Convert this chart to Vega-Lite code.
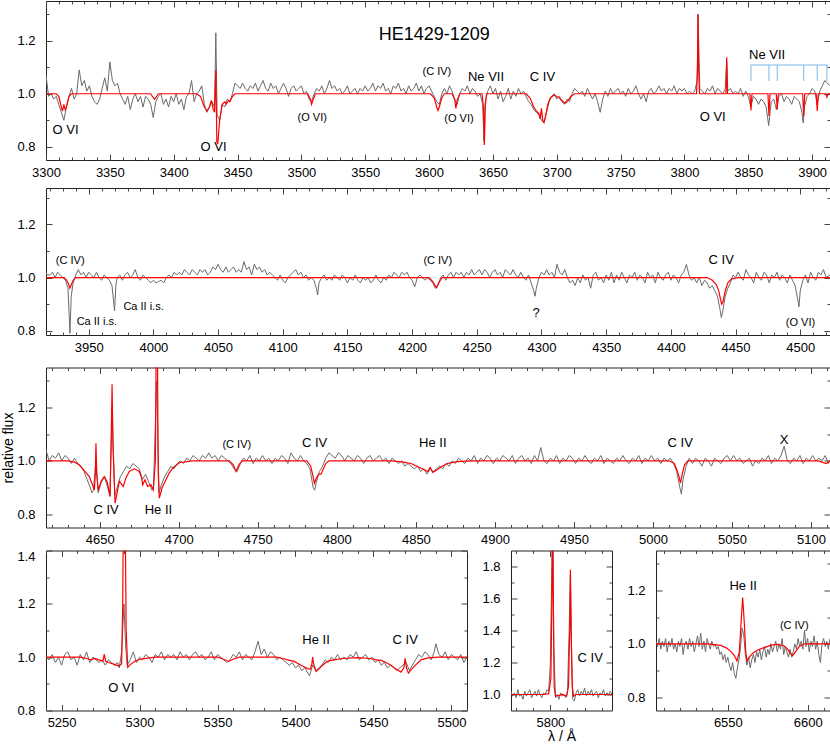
{
"$schema": "https://vega.github.io/schema/vega-lite/v6.json",
"autosize": {"type": "pad"},
"padding": {"left": 1, "top": 0, "right": 0, "bottom": 0},
"background": "white",
"config": {
  "view": {"stroke": "#222", "strokeWidth": 1},
  "font": "Liberation Sans",
  "axis": {"domain": false, "grid": false, "labelFont": "Liberation Sans", "labelFontSize": 13, "labelColor": "#000", "tickColor": "#444", "tickWidth": 1, "labelOverlap": false, "labelFlush": false, "titleFont": "Liberation Sans", "titleFontWeight": "normal", "titleColor": "#000", "titleFontSize": 14},
  "text": {"font": "Liberation Sans", "color": "#000"}
},
"datasets": {
"o1": [{"x":3300,"y":1.07},{"x":3302,"y":0.99},{"x":3304,"y":1.0},{"x":3306,"y":0.98},{"x":3308,"y":0.99},{"x":3310,"y":0.96},{"x":3312,"y":0.93},{"x":3314,"y":0.9},{"x":3316,"y":0.95},{"x":3318,"y":0.99},{"x":3320,"y":1.02},{"x":3322,"y":0.98},{"x":3324,"y":1.0},{"x":3326,"y":1.09},{"x":3328,"y":1.03},{"x":3330,"y":1.05},{"x":3332,"y":1.01},{"x":3334,"y":1.03},{"x":3336,"y":0.99},{"x":3338,"y":0.97},{"x":3340,"y":0.96},{"x":3342,"y":0.98},{"x":3344,"y":1.02},{"x":3346,"y":1.06},{"x":3348,"y":1.01},{"x":3350,"y":1.12},{"x":3352,"y":1.05},{"x":3354,"y":1.03},{"x":3356,"y":1.04},{"x":3358,"y":1.0},{"x":3360,"y":0.98},{"x":3362,"y":0.96},{"x":3364,"y":0.99},{"x":3366,"y":0.94},{"x":3368,"y":0.98},{"x":3370,"y":1.0},{"x":3372,"y":0.97},{"x":3374,"y":0.99},{"x":3376,"y":0.95},{"x":3378,"y":0.99},{"x":3380,"y":0.98},{"x":3382,"y":0.96},{"x":3384,"y":0.91},{"x":3386,"y":0.97},{"x":3388,"y":0.99},{"x":3390,"y":1.0},{"x":3392,"y":0.96},{"x":3394,"y":0.98},{"x":3396,"y":0.95},{"x":3398,"y":0.99},{"x":3400,"y":0.97},{"x":3402,"y":1.0},{"x":3404,"y":0.96},{"x":3406,"y":0.98},{"x":3408,"y":0.94},{"x":3410,"y":0.99},{"x":3412,"y":1.0},{"x":3414,"y":1.05},{"x":3416,"y":0.97},{"x":3418,"y":1.0},{"x":3420,"y":1.01},{"x":3422,"y":1.03},{"x":3424,"y":0.96},{"x":3426,"y":0.93},{"x":3428,"y":0.95},{"x":3430,"y":0.97},{"x":3432,"y":0.95},{"x":3433,"y":1.23},{"x":3434,"y":0.92},{"x":3436,"y":0.9},{"x":3438,"y":0.96},{"x":3440,"y":0.95},{"x":3442,"y":0.98},{"x":3444,"y":0.97},{"x":3446,"y":1.0},{"x":3448,"y":1.04},{"x":3450,"y":1.03},{"x":3452,"y":1.02},{"x":3454,"y":1.04},{"x":3456,"y":1.02},{"x":3458,"y":1.01},{"x":3460,"y":1.03},{"x":3462,"y":1.02},{"x":3464,"y":1.04},{"x":3466,"y":1.01},{"x":3468,"y":1.03},{"x":3470,"y":1.05},{"x":3472,"y":1.02},{"x":3474,"y":1.01},{"x":3476,"y":1.04},{"x":3478,"y":1.02},{"x":3480,"y":1.03},{"x":3482,"y":1.0},{"x":3484,"y":1.02},{"x":3486,"y":1.04},{"x":3488,"y":1.02},{"x":3490,"y":0.99},{"x":3492,"y":1.02},{"x":3494,"y":1.03},{"x":3496,"y":1.01},{"x":3498,"y":1.02},{"x":3500,"y":1.03},{"x":3502,"y":1.0},{"x":3504,"y":1.01},{"x":3506,"y":0.98},{"x":3508,"y":0.97},{"x":3510,"y":1.0},{"x":3512,"y":1.02},{"x":3514,"y":1.01},{"x":3516,"y":1.03},{"x":3518,"y":1.0},{"x":3520,"y":1.02},{"x":3522,"y":1.05},{"x":3524,"y":1.02},{"x":3526,"y":1.03},{"x":3528,"y":1.01},{"x":3530,"y":1.02},{"x":3532,"y":1.0},{"x":3534,"y":1.01},{"x":3536,"y":1.03},{"x":3538,"y":1.0},{"x":3540,"y":1.01},{"x":3542,"y":1.02},{"x":3544,"y":1.0},{"x":3546,"y":1.02},{"x":3548,"y":1.01},{"x":3550,"y":1.03},{"x":3552,"y":1.01},{"x":3554,"y":1.02},{"x":3556,"y":1.04},{"x":3558,"y":1.01},{"x":3560,"y":1.03},{"x":3562,"y":1.02},{"x":3564,"y":1.04},{"x":3566,"y":1.01},{"x":3568,"y":1.02},{"x":3570,"y":1.0},{"x":3572,"y":1.03},{"x":3574,"y":1.02},{"x":3576,"y":1.04},{"x":3578,"y":1.01},{"x":3580,"y":1.02},{"x":3582,"y":1.0},{"x":3584,"y":1.03},{"x":3586,"y":1.01},{"x":3588,"y":1.02},{"x":3590,"y":1.04},{"x":3592,"y":1.01},{"x":3594,"y":1.03},{"x":3596,"y":1.0},{"x":3598,"y":1.02},{"x":3600,"y":1.03},{"x":3602,"y":1.01},{"x":3604,"y":0.99},{"x":3606,"y":0.97},{"x":3608,"y":0.96},{"x":3610,"y":1.0},{"x":3612,"y":1.02},{"x":3614,"y":1.0},{"x":3616,"y":1.03},{"x":3618,"y":1.01},{"x":3620,"y":0.98},{"x":3622,"y":0.96},{"x":3624,"y":1.0},{"x":3626,"y":1.02},{"x":3628,"y":1.01},{"x":3630,"y":1.03},{"x":3632,"y":1.0},{"x":3634,"y":1.02},{"x":3636,"y":1.01},{"x":3638,"y":0.99},{"x":3640,"y":1.0},{"x":3642,"y":0.96},{"x":3643,"y":0.82},{"x":3644,"y":0.97},{"x":3646,"y":1.01},{"x":3648,"y":1.03},{"x":3650,"y":1.0},{"x":3652,"y":1.02},{"x":3654,"y":0.98},{"x":3656,"y":1.01},{"x":3658,"y":0.97},{"x":3660,"y":0.99},{"x":3662,"y":1.02},{"x":3664,"y":0.98},{"x":3666,"y":1.01},{"x":3668,"y":0.99},{"x":3670,"y":1.02},{"x":3672,"y":1.0},{"x":3674,"y":1.01},{"x":3676,"y":0.99},{"x":3678,"y":0.97},{"x":3680,"y":0.96},{"x":3682,"y":0.94},{"x":3684,"y":0.93},{"x":3686,"y":0.92},{"x":3688,"y":0.9},{"x":3690,"y":0.89},{"x":3692,"y":0.93},{"x":3694,"y":0.97},{"x":3696,"y":0.99},{"x":3698,"y":1.0},{"x":3700,"y":0.98},{"x":3702,"y":0.99},{"x":3704,"y":0.97},{"x":3706,"y":0.96},{"x":3708,"y":0.98},{"x":3710,"y":0.97},{"x":3712,"y":1.0},{"x":3714,"y":1.02},{"x":3716,"y":1.01},{"x":3718,"y":1.0},{"x":3720,"y":1.01},{"x":3722,"y":0.99},{"x":3724,"y":1.02},{"x":3726,"y":1.0},{"x":3728,"y":0.98},{"x":3730,"y":1.0},{"x":3732,"y":0.97},{"x":3734,"y":0.93},{"x":3736,"y":0.98},{"x":3738,"y":1.01},{"x":3740,"y":0.99},{"x":3742,"y":1.02},{"x":3744,"y":1.0},{"x":3746,"y":1.01},{"x":3748,"y":1.02},{"x":3750,"y":1.0},{"x":3752,"y":1.01},{"x":3754,"y":0.99},{"x":3756,"y":1.02},{"x":3758,"y":1.0},{"x":3760,"y":1.01},{"x":3762,"y":1.03},{"x":3764,"y":1.0},{"x":3766,"y":0.98},{"x":3768,"y":1.0},{"x":3770,"y":0.97},{"x":3772,"y":1.01},{"x":3774,"y":1.02},{"x":3776,"y":1.0},{"x":3778,"y":1.01},{"x":3780,"y":1.03},{"x":3782,"y":1.01},{"x":3784,"y":1.02},{"x":3786,"y":1.0},{"x":3788,"y":1.02},{"x":3790,"y":1.01},{"x":3792,"y":1.03},{"x":3794,"y":1.0},{"x":3796,"y":1.02},{"x":3798,"y":1.01},{"x":3800,"y":1.02},{"x":3802,"y":1.0},{"x":3804,"y":1.01},{"x":3806,"y":1.0},{"x":3808,"y":1.01},{"x":3810,"y":1.05},{"x":3810.7,"y":1.3},{"x":3812,"y":1.02},{"x":3814,"y":1.01},{"x":3816,"y":1.0},{"x":3818,"y":1.02},{"x":3820,"y":1.01},{"x":3822,"y":1.03},{"x":3824,"y":1.0},{"x":3826,"y":1.02},{"x":3828,"y":1.01},{"x":3830,"y":1.0},{"x":3832,"y":1.02},{"x":3833.1,"y":1.12},{"x":3834,"y":1.01},{"x":3836,"y":1.02},{"x":3838,"y":1.0},{"x":3840,"y":1.01},{"x":3842,"y":1.0},{"x":3844,"y":1.02},{"x":3846,"y":0.99},{"x":3848,"y":1.01},{"x":3850,"y":0.99},{"x":3852,"y":0.95},{"x":3854,"y":0.99},{"x":3856,"y":0.98},{"x":3858,"y":0.96},{"x":3860,"y":0.98},{"x":3862,"y":0.97},{"x":3864,"y":0.95},{"x":3866,"y":0.88},{"x":3868,"y":0.97},{"x":3870,"y":0.98},{"x":3872,"y":0.94},{"x":3874,"y":0.99},{"x":3876,"y":1.0},{"x":3878,"y":0.97},{"x":3880,"y":0.99},{"x":3882,"y":0.98},{"x":3884,"y":0.96},{"x":3886,"y":0.99},{"x":3888,"y":0.98},{"x":3890,"y":0.97},{"x":3892,"y":0.93},{"x":3893,"y":0.89},{"x":3894,"y":0.95},{"x":3896,"y":0.99},{"x":3898,"y":1.0},{"x":3900,"y":1.02},{"x":3902,"y":1.01},{"x":3904,"y":0.96},{"x":3906,"y":1.01},{"x":3908,"y":1.03},{"x":3910,"y":1.05},{"x":3912,"y":1.04},{"x":3914,"y":1.03}],
"m1": [{"x":3300,"y":1.0},{"x":3308,"y":1.0},{"x":3310,"y":0.99},{"x":3312,"y":0.95},{"x":3313,"y":0.935},{"x":3314,"y":0.96},{"x":3315,"y":0.94},{"x":3316,"y":0.95},{"x":3318,"y":0.99},{"x":3320,"y":1.0},{"x":3382,"y":1.0},{"x":3384,"y":0.985},{"x":3385,"y":0.979},{"x":3386,"y":0.985},{"x":3388,"y":1.0},{"x":3418,"y":1.0},{"x":3421,"y":0.99},{"x":3424,"y":0.95},{"x":3426,"y":0.935},{"x":3428,"y":0.95},{"x":3429.5,"y":0.975},{"x":3431,"y":0.94},{"x":3432,"y":0.93},{"x":3433,"y":1.09},{"x":3433.8,"y":0.82},{"x":3434.5,"y":0.81},{"x":3436,"y":0.9},{"x":3438,"y":0.96},{"x":3440,"y":0.97},{"x":3441,"y":0.96},{"x":3443,"y":0.975},{"x":3444,"y":0.97},{"x":3446,"y":0.99},{"x":3448,"y":1.0},{"x":3505,"y":1.0},{"x":3507,"y":0.98},{"x":3508,"y":0.96},{"x":3509,"y":0.975},{"x":3511,"y":1.0},{"x":3601,"y":1.0},{"x":3604,"y":0.985},{"x":3606,"y":0.95},{"x":3607,"y":0.937},{"x":3608,"y":0.95},{"x":3610,"y":0.985},{"x":3612,"y":1.0},{"x":3618,"y":1.0},{"x":3620,"y":0.98},{"x":3621,"y":0.945},{"x":3622,"y":0.975},{"x":3624,"y":1.0},{"x":3641.5,"y":1.0},{"x":3642.6,"y":0.95},{"x":3643.3,"y":0.807},{"x":3644,"y":0.95},{"x":3645,"y":1.0},{"x":3676,"y":1.0},{"x":3679,"y":0.985},{"x":3682,"y":0.95},{"x":3684,"y":0.935},{"x":3686,"y":0.925},{"x":3687,"y":0.905},{"x":3688,"y":0.945},{"x":3689,"y":0.9},{"x":3690,"y":0.892},{"x":3691,"y":0.91},{"x":3693,"y":0.96},{"x":3695,"y":0.985},{"x":3698,"y":0.995},{"x":3702,"y":0.985},{"x":3705,"y":0.97},{"x":3707,"y":0.965},{"x":3709,"y":0.975},{"x":3711,"y":0.99},{"x":3714,"y":1.0},{"x":3809.5,"y":1.0},{"x":3810.2,"y":1.1},{"x":3810.6,"y":1.3},{"x":3811.1,"y":1.1},{"x":3811.8,"y":1.0},{"x":3832.5,"y":1.0},{"x":3833.1,"y":1.138},{"x":3833.7,"y":1.0},{"x":3851.3,"y":1.0},{"x":3852.1,"y":0.937},{"x":3852.9,"y":1.0},{"x":3865.4,"y":1.0},{"x":3866.2,"y":0.916},{"x":3867,"y":1.0},{"x":3871.9,"y":1.0},{"x":3872.7,"y":0.941},{"x":3873.5,"y":1.0},{"x":3892.6,"y":1.0},{"x":3893.4,"y":0.916},{"x":3894.2,"y":1.0},{"x":3903.2,"y":1.0},{"x":3904,"y":0.935},{"x":3904.8,"y":1.0},{"x":3910.8,"y":1.0},{"x":3911.6,"y":0.988},{"x":3912.4,"y":1.0},{"x":3914,"y":1.0}],
"o2": [{"x":3917,"y":1.02},{"x":3918,"y":1.01},{"x":3920,"y":1.01},{"x":3922,"y":1.02},{"x":3924,"y":1.0},{"x":3926,"y":1.02},{"x":3928,"y":1.01},{"x":3930,"y":1.0},{"x":3932,"y":0.99},{"x":3934,"y":0.96},{"x":3935.5,"y":0.79},{"x":3936.5,"y":0.93},{"x":3938,"y":0.98},{"x":3940,"y":1.01},{"x":3942,"y":1.03},{"x":3944,"y":1.01},{"x":3946,"y":1.02},{"x":3948,"y":1.0},{"x":3950,"y":1.02},{"x":3952,"y":1.01},{"x":3954,"y":1.0},{"x":3956,"y":1.02},{"x":3958,"y":1.0},{"x":3960,"y":0.99},{"x":3962,"y":1.01},{"x":3964,"y":1.0},{"x":3966,"y":0.99},{"x":3968,"y":0.97},{"x":3970,"y":0.875},{"x":3971,"y":0.97},{"x":3972,"y":1.0},{"x":3974,"y":1.01},{"x":3976,"y":0.99},{"x":3978,"y":1.01},{"x":3980,"y":1.02},{"x":3982,"y":1.0},{"x":3984,"y":1.01},{"x":3986,"y":1.03},{"x":3988,"y":1.0},{"x":3990,"y":0.99},{"x":3992,"y":1.01},{"x":3994,"y":1.0},{"x":3996,"y":0.99},{"x":3998,"y":0.98},{"x":4000,"y":0.99},{"x":4002,"y":0.98},{"x":4004,"y":0.985},{"x":4006,"y":0.99},{"x":4008,"y":0.98},{"x":4010,"y":1.0},{"x":4012,"y":1.01},{"x":4014,"y":1.0},{"x":4016,"y":1.02},{"x":4018,"y":1.01},{"x":4020,"y":1.02},{"x":4022,"y":1.01},{"x":4024,"y":1.03},{"x":4026,"y":1.02},{"x":4028,"y":1.01},{"x":4030,"y":1.03},{"x":4032,"y":1.02},{"x":4034,"y":1.01},{"x":4036,"y":1.03},{"x":4038,"y":1.02},{"x":4040,"y":1.03},{"x":4042,"y":1.01},{"x":4044,"y":1.02},{"x":4046,"y":1.04},{"x":4048,"y":1.03},{"x":4050,"y":1.05},{"x":4052,"y":1.03},{"x":4054,"y":1.02},{"x":4056,"y":1.04},{"x":4058,"y":1.02},{"x":4060,"y":1.03},{"x":4062,"y":1.04},{"x":4064,"y":1.02},{"x":4066,"y":1.03},{"x":4068,"y":1.02},{"x":4070,"y":1.06},{"x":4072,"y":1.03},{"x":4074,"y":1.04},{"x":4076,"y":1.01},{"x":4078,"y":1.05},{"x":4080,"y":1.03},{"x":4082,"y":1.04},{"x":4084,"y":1.02},{"x":4086,"y":1.03},{"x":4088,"y":1.01},{"x":4090,"y":1.02},{"x":4092,"y":1.01},{"x":4094,"y":1.0},{"x":4096,"y":0.99},{"x":4098,"y":1.01},{"x":4100,"y":0.99},{"x":4102,"y":0.98},{"x":4104,"y":1.0},{"x":4106,"y":1.01},{"x":4108,"y":1.02},{"x":4110,"y":1.03},{"x":4112,"y":1.01},{"x":4114,"y":1.02},{"x":4116,"y":1.0},{"x":4118,"y":1.01},{"x":4120,"y":0.99},{"x":4122,"y":1.0},{"x":4124,"y":0.99},{"x":4126,"y":0.96},{"x":4127,"y":0.935},{"x":4128,"y":0.98},{"x":4130,"y":1.0},{"x":4132,"y":1.01},{"x":4134,"y":0.99},{"x":4136,"y":1.0},{"x":4138,"y":0.99},{"x":4140,"y":1.01},{"x":4142,"y":1.0},{"x":4144,"y":0.99},{"x":4146,"y":1.01},{"x":4148,"y":1.0},{"x":4150,"y":0.98},{"x":4152,"y":1.0},{"x":4154,"y":0.99},{"x":4156,"y":1.01},{"x":4158,"y":0.99},{"x":4160,"y":0.98},{"x":4162,"y":1.0},{"x":4164,"y":0.99},{"x":4166,"y":1.0},{"x":4168,"y":0.98},{"x":4170,"y":0.99},{"x":4172,"y":1.01},{"x":4174,"y":0.99},{"x":4176,"y":0.98},{"x":4178,"y":1.0},{"x":4180,"y":0.99},{"x":4182,"y":1.01},{"x":4184,"y":1.0},{"x":4186,"y":1.02},{"x":4188,"y":1.01},{"x":4190,"y":1.0},{"x":4192,"y":1.02},{"x":4194,"y":1.01},{"x":4196,"y":1.02},{"x":4198,"y":1.0},{"x":4200,"y":0.99},{"x":4202,"y":0.965},{"x":4204,"y":1.0},{"x":4206,"y":1.01},{"x":4208,"y":1.0},{"x":4210,"y":0.99},{"x":4212,"y":1.0},{"x":4214,"y":0.99},{"x":4216,"y":0.98},{"x":4218,"y":0.96},{"x":4220,"y":0.97},{"x":4222,"y":1.0},{"x":4224,"y":1.01},{"x":4226,"y":0.99},{"x":4228,"y":1.01},{"x":4230,"y":1.02},{"x":4232,"y":1.0},{"x":4234,"y":1.02},{"x":4236,"y":1.01},{"x":4238,"y":1.02},{"x":4240,"y":1.0},{"x":4242,"y":1.02},{"x":4244,"y":1.01},{"x":4246,"y":1.03},{"x":4248,"y":1.01},{"x":4250,"y":1.02},{"x":4252,"y":1.03},{"x":4254,"y":1.01},{"x":4256,"y":1.03},{"x":4258,"y":1.02},{"x":4260,"y":1.0},{"x":4262,"y":1.02},{"x":4264,"y":1.03},{"x":4266,"y":1.01},{"x":4268,"y":1.02},{"x":4270,"y":1.0},{"x":4272,"y":1.03},{"x":4274,"y":1.02},{"x":4276,"y":1.01},{"x":4278,"y":1.03},{"x":4280,"y":1.01},{"x":4282,"y":1.0},{"x":4284,"y":1.02},{"x":4286,"y":1.0},{"x":4288,"y":0.99},{"x":4290,"y":1.01},{"x":4292,"y":0.98},{"x":4294,"y":0.95},{"x":4295,"y":0.93},{"x":4296,"y":0.96},{"x":4298,"y":1.0},{"x":4300,"y":1.02},{"x":4302,"y":1.01},{"x":4304,"y":1.03},{"x":4306,"y":1.01},{"x":4308,"y":1.02},{"x":4310,"y":1.0},{"x":4312,"y":1.05},{"x":4314,"y":1.02},{"x":4316,"y":1.01},{"x":4318,"y":1.03},{"x":4320,"y":1.0},{"x":4322,"y":0.98},{"x":4324,"y":0.99},{"x":4326,"y":0.97},{"x":4328,"y":1.0},{"x":4330,"y":0.98},{"x":4332,"y":1.01},{"x":4334,"y":0.99},{"x":4336,"y":1.0},{"x":4338,"y":0.96},{"x":4340,"y":1.01},{"x":4342,"y":1.02},{"x":4344,"y":0.99},{"x":4346,"y":1.0},{"x":4348,"y":0.98},{"x":4350,"y":1.01},{"x":4352,"y":0.99},{"x":4354,"y":1.02},{"x":4356,"y":0.98},{"x":4358,"y":1.01},{"x":4360,"y":0.99},{"x":4362,"y":1.02},{"x":4364,"y":1.0},{"x":4366,"y":0.98},{"x":4368,"y":1.01},{"x":4370,"y":1.0},{"x":4372,"y":1.02},{"x":4374,"y":0.99},{"x":4376,"y":1.01},{"x":4378,"y":1.0},{"x":4380,"y":0.98},{"x":4382,"y":1.02},{"x":4384,"y":1.0},{"x":4386,"y":1.01},{"x":4388,"y":0.98},{"x":4390,"y":1.02},{"x":4392,"y":1.0},{"x":4394,"y":0.99},{"x":4396,"y":1.01},{"x":4398,"y":1.02},{"x":4400,"y":0.99},{"x":4402,"y":1.01},{"x":4404,"y":1.0},{"x":4406,"y":0.98},{"x":4408,"y":1.01},{"x":4410,"y":1.02},{"x":4412,"y":1.05},{"x":4414,"y":1.01},{"x":4416,"y":0.99},{"x":4418,"y":1.0},{"x":4420,"y":0.98},{"x":4422,"y":1.0},{"x":4424,"y":0.97},{"x":4426,"y":0.99},{"x":4428,"y":0.98},{"x":4430,"y":0.96},{"x":4432,"y":0.97},{"x":4434,"y":0.95},{"x":4436,"y":0.93},{"x":4438,"y":0.88},{"x":4439,"y":0.85},{"x":4440,"y":0.87},{"x":4442,"y":0.93},{"x":4444,"y":0.96},{"x":4446,"y":0.98},{"x":4448,"y":1.01},{"x":4450,"y":1.0},{"x":4452,"y":1.02},{"x":4454,"y":1.0},{"x":4456,"y":0.99},{"x":4458,"y":1.03},{"x":4460,"y":1.01},{"x":4462,"y":1.0},{"x":4464,"y":0.98},{"x":4466,"y":1.02},{"x":4468,"y":1.0},{"x":4470,"y":0.99},{"x":4472,"y":1.02},{"x":4474,"y":1.01},{"x":4476,"y":0.98},{"x":4478,"y":1.01},{"x":4480,"y":1.0},{"x":4482,"y":1.02},{"x":4484,"y":0.99},{"x":4486,"y":1.01},{"x":4488,"y":1.0},{"x":4490,"y":0.98},{"x":4492,"y":1.01},{"x":4494,"y":0.99},{"x":4496,"y":0.97},{"x":4498,"y":0.92},{"x":4499,"y":0.89},{"x":4500,"y":0.95},{"x":4502,"y":0.99},{"x":4504,"y":1.01},{"x":4506,"y":0.98},{"x":4508,"y":1.02},{"x":4510,"y":1.0},{"x":4512,"y":0.99},{"x":4514,"y":1.02},{"x":4516,"y":1.01},{"x":4518,"y":1.03},{"x":4520,"y":1.0},{"x":4523,"y":1.01}],
"m2": [{"x":3917,"y":1.0},{"x":3931,"y":1.0},{"x":3933,"y":0.99},{"x":3934.5,"y":0.975},{"x":3935.5,"y":0.96},{"x":3936.5,"y":0.972},{"x":3938,"y":0.99},{"x":3940,"y":1.0},{"x":4213,"y":1.0},{"x":4216,"y":0.985},{"x":4218,"y":0.968},{"x":4219,"y":0.962},{"x":4220,"y":0.975},{"x":4223,"y":1.0},{"x":4428,"y":1.0},{"x":4432,"y":0.99},{"x":4435,"y":0.975},{"x":4437,"y":0.95},{"x":4438.3,"y":0.92},{"x":4439.3,"y":0.9},{"x":4440.3,"y":0.91},{"x":4442,"y":0.95},{"x":4444,"y":0.98},{"x":4447,"y":0.995},{"x":4452,"y":1.0},{"x":4523,"y":1.0}],
"o3": [{"x":4616,"y":1.04},{"x":4618,"y":1.0},{"x":4620,"y":1.02},{"x":4622,"y":1.01},{"x":4624,"y":1.03},{"x":4626,"y":1.0},{"x":4628,"y":1.02},{"x":4630,"y":1.01},{"x":4632,"y":0.99},{"x":4634,"y":1.01},{"x":4636,"y":0.99},{"x":4638,"y":0.98},{"x":4640,"y":0.96},{"x":4642,"y":0.93},{"x":4644,"y":0.9},{"x":4645,"y":0.88},{"x":4646,"y":0.89},{"x":4647.6,"y":1.0},{"x":4649,"y":0.88},{"x":4651,"y":0.92},{"x":4653,"y":0.94},{"x":4655,"y":0.9},{"x":4656.5,"y":0.87},{"x":4657.8,"y":1.2},{"x":4659.5,"y":0.87},{"x":4661,"y":0.9},{"x":4663,"y":0.94},{"x":4665,"y":0.96},{"x":4667,"y":0.98},{"x":4669,"y":0.97},{"x":4671,"y":0.99},{"x":4673,"y":0.98},{"x":4675,"y":0.97},{"x":4677,"y":0.93},{"x":4679,"y":0.95},{"x":4681,"y":0.92},{"x":4683,"y":0.89},{"x":4684,"y":0.9},{"x":4686,"y":1.3},{"x":4687.5,"y":0.88},{"x":4689,"y":0.91},{"x":4691,"y":0.94},{"x":4693,"y":0.96},{"x":4695,"y":0.98},{"x":4697,"y":0.97},{"x":4699,"y":0.99},{"x":4701,"y":1.0},{"x":4703,"y":0.99},{"x":4705,"y":1.01},{"x":4707,"y":1.0},{"x":4709,"y":1.02},{"x":4711,"y":1.01},{"x":4713,"y":1.0},{"x":4715,"y":1.02},{"x":4717,"y":1.01},{"x":4719,"y":1.03},{"x":4721,"y":1.01},{"x":4723,"y":1.02},{"x":4725,"y":1.0},{"x":4727,"y":1.02},{"x":4729,"y":1.01},{"x":4731,"y":1.0},{"x":4733,"y":0.99},{"x":4735,"y":0.97},{"x":4737,"y":0.96},{"x":4739,"y":0.99},{"x":4741,"y":1.01},{"x":4743,"y":1.0},{"x":4745,"y":1.02},{"x":4747,"y":0.99},{"x":4749,"y":1.01},{"x":4751,"y":1.0},{"x":4753,"y":1.02},{"x":4755,"y":1.0},{"x":4757,"y":1.01},{"x":4759,"y":0.99},{"x":4761,"y":1.01},{"x":4763,"y":1.0},{"x":4765,"y":1.02},{"x":4767,"y":1.01},{"x":4769,"y":0.99},{"x":4771,"y":1.03},{"x":4773,"y":1.01},{"x":4775,"y":1.0},{"x":4777,"y":1.02},{"x":4779,"y":1.0},{"x":4781,"y":0.99},{"x":4783,"y":0.97},{"x":4785,"y":0.9},{"x":4786,"y":0.89},{"x":4787,"y":0.92},{"x":4789,"y":0.96},{"x":4791,"y":0.98},{"x":4793,"y":1.01},{"x":4795,"y":1.03},{"x":4797,"y":1.02},{"x":4799,"y":1.01},{"x":4801,"y":1.03},{"x":4803,"y":1.02},{"x":4805,"y":1.0},{"x":4807,"y":1.02},{"x":4809,"y":1.01},{"x":4811,"y":1.0},{"x":4813,"y":1.02},{"x":4815,"y":1.01},{"x":4817,"y":0.99},{"x":4819,"y":1.01},{"x":4821,"y":1.02},{"x":4823,"y":1.0},{"x":4825,"y":1.01},{"x":4827,"y":1.02},{"x":4829,"y":1.0},{"x":4831,"y":1.01},{"x":4833,"y":0.99},{"x":4835,"y":1.01},{"x":4837,"y":1.0},{"x":4839,"y":0.99},{"x":4841,"y":1.0},{"x":4843,"y":0.98},{"x":4845,"y":0.99},{"x":4847,"y":0.98},{"x":4849,"y":0.97},{"x":4851,"y":0.98},{"x":4853,"y":0.96},{"x":4855,"y":0.97},{"x":4857,"y":0.95},{"x":4859,"y":0.97},{"x":4861,"y":0.96},{"x":4863,"y":0.97},{"x":4865,"y":0.98},{"x":4867,"y":0.97},{"x":4869,"y":0.99},{"x":4871,"y":0.98},{"x":4873,"y":1.0},{"x":4875,"y":0.99},{"x":4877,"y":1.01},{"x":4879,"y":1.0},{"x":4881,"y":0.99},{"x":4883,"y":1.01},{"x":4885,"y":1.0},{"x":4887,"y":1.02},{"x":4889,"y":0.99},{"x":4891,"y":1.01},{"x":4893,"y":1.0},{"x":4895,"y":1.02},{"x":4897,"y":1.01},{"x":4899,"y":0.99},{"x":4901,"y":1.01},{"x":4903,"y":1.0},{"x":4905,"y":1.02},{"x":4907,"y":1.01},{"x":4909,"y":1.0},{"x":4911,"y":1.02},{"x":4913,"y":0.99},{"x":4915,"y":1.01},{"x":4917,"y":1.02},{"x":4919,"y":1.0},{"x":4921,"y":1.01},{"x":4923,"y":0.99},{"x":4925,"y":1.02},{"x":4927,"y":1.0},{"x":4929,"y":1.05},{"x":4931,"y":1.0},{"x":4933,"y":0.99},{"x":4935,"y":1.01},{"x":4937,"y":1.0},{"x":4939,"y":1.02},{"x":4941,"y":0.99},{"x":4943,"y":1.01},{"x":4945,"y":1.0},{"x":4947,"y":1.02},{"x":4949,"y":1.01},{"x":4951,"y":0.99},{"x":4953,"y":1.01},{"x":4955,"y":1.0},{"x":4957,"y":1.02},{"x":4959,"y":1.0},{"x":4961,"y":0.99},{"x":4963,"y":1.01},{"x":4965,"y":1.0},{"x":4967,"y":1.02},{"x":4969,"y":0.99},{"x":4971,"y":1.01},{"x":4973,"y":1.0},{"x":4975,"y":0.99},{"x":4977,"y":1.01},{"x":4979,"y":1.0},{"x":4981,"y":1.02},{"x":4983,"y":1.0},{"x":4985,"y":0.99},{"x":4987,"y":1.01},{"x":4989,"y":1.0},{"x":4991,"y":1.02},{"x":4993,"y":0.99},{"x":4995,"y":1.01},{"x":4997,"y":1.0},{"x":4999,"y":1.02},{"x":5001,"y":1.0},{"x":5003,"y":1.01},{"x":5005,"y":0.99},{"x":5007,"y":1.01},{"x":5009,"y":1.0},{"x":5011,"y":1.01},{"x":5013,"y":0.99},{"x":5015,"y":0.96},{"x":5017,"y":0.9},{"x":5018,"y":0.875},{"x":5019,"y":0.93},{"x":5021,"y":0.98},{"x":5023,"y":1.01},{"x":5025,"y":0.99},{"x":5027,"y":1.01},{"x":5029,"y":1.0},{"x":5031,"y":0.98},{"x":5033,"y":1.01},{"x":5035,"y":1.0},{"x":5037,"y":0.98},{"x":5039,"y":1.01},{"x":5041,"y":1.0},{"x":5043,"y":0.99},{"x":5045,"y":1.01},{"x":5047,"y":1.02},{"x":5049,"y":1.0},{"x":5051,"y":1.02},{"x":5053,"y":1.0},{"x":5055,"y":1.01},{"x":5057,"y":0.99},{"x":5059,"y":1.0},{"x":5061,"y":1.01},{"x":5063,"y":0.98},{"x":5065,"y":1.0},{"x":5067,"y":0.99},{"x":5069,"y":1.01},{"x":5071,"y":1.0},{"x":5073,"y":1.02},{"x":5075,"y":0.99},{"x":5077,"y":1.01},{"x":5079,"y":1.0},{"x":5081,"y":1.02},{"x":5083,"y":1.055},{"x":5085,"y":1.0},{"x":5087,"y":0.99},{"x":5089,"y":1.01},{"x":5091,"y":1.0},{"x":5093,"y":1.02},{"x":5095,"y":0.99},{"x":5097,"y":1.01},{"x":5099,"y":1.0},{"x":5101,"y":1.02},{"x":5103,"y":1.0},{"x":5105,"y":1.01},{"x":5107,"y":1.0},{"x":5109,"y":1.02},{"x":5111,"y":0.99},{"x":5112,"y":1.0}],
"m3": [{"x":4616,"y":1.0},{"x":4630,"y":1.0},{"x":4634,"y":0.995},{"x":4637,"y":0.985},{"x":4640,"y":0.965},{"x":4643.4,"y":0.941},{"x":4646.6,"y":0.891},{"x":4647.2,"y":0.95},{"x":4647.6,"y":1.066},{"x":4648.1,"y":0.95},{"x":4649.1,"y":0.89},{"x":4651,"y":0.925},{"x":4652.9,"y":0.941},{"x":4654.8,"y":0.92},{"x":4656.5,"y":0.866},{"x":4657.3,"y":1.1},{"x":4657.8,"y":1.287},{"x":4658.4,"y":1.05},{"x":4659.7,"y":0.841},{"x":4661,"y":0.88},{"x":4662.4,"y":0.923},{"x":4664.9,"y":0.904},{"x":4666.5,"y":0.935},{"x":4668.7,"y":0.96},{"x":4671.9,"y":0.97},{"x":4675,"y":0.96},{"x":4676.5,"y":0.935},{"x":4677.2,"y":0.91},{"x":4678.6,"y":0.929},{"x":4680.3,"y":0.904},{"x":4682.4,"y":0.91},{"x":4683.9,"y":0.891},{"x":4685.2,"y":1.0},{"x":4685.8,"y":1.5},{"x":4686.4,"y":1.5},{"x":4687,"y":0.95},{"x":4687.7,"y":0.86},{"x":4689.5,"y":0.9},{"x":4691.9,"y":0.929},{"x":4694,"y":0.955},{"x":4696.2,"y":0.973},{"x":4700.3,"y":0.993},{"x":4708.8,"y":1.0},{"x":4732,"y":1.0},{"x":4734.5,"y":0.985},{"x":4736.2,"y":0.96},{"x":4738,"y":0.985},{"x":4740,"y":1.0},{"x":4781,"y":1.0},{"x":4783.5,"y":0.98},{"x":4785,"y":0.94},{"x":4785.8,"y":0.916},{"x":4787,"y":0.935},{"x":4788.5,"y":0.95},{"x":4790,"y":0.95},{"x":4791.5,"y":0.97},{"x":4793,"y":0.99},{"x":4795,"y":1.0},{"x":4835,"y":1.0},{"x":4842,"y":0.995},{"x":4847,"y":0.99},{"x":4851,"y":0.979},{"x":4854,"y":0.97},{"x":4857.5,"y":0.96},{"x":4859,"y":0.975},{"x":4860.7,"y":0.957},{"x":4863,"y":0.965},{"x":4866,"y":0.978},{"x":4870,"y":0.99},{"x":4876,"y":0.997},{"x":4885,"y":1.0},{"x":5010,"y":1.0},{"x":5013.5,"y":0.99},{"x":5015.5,"y":0.96},{"x":5016.5,"y":0.94},{"x":5017.4,"y":0.916},{"x":5018.5,"y":0.95},{"x":5020,"y":0.985},{"x":5022,"y":1.0},{"x":5105,"y":1.0},{"x":5107,"y":0.995},{"x":5109.5,"y":0.99},{"x":5111,"y":0.995},{"x":5112,"y":1.0}],
"o4": [{"x":5240,"y":1.0},{"x":5242,"y":0.99},{"x":5244,"y":1.01},{"x":5246,"y":0.98},{"x":5248,"y":1.0},{"x":5250,"y":0.97},{"x":5252,"y":1.01},{"x":5254,"y":1.02},{"x":5256,"y":0.99},{"x":5258,"y":1.0},{"x":5260,"y":0.97},{"x":5262,"y":1.01},{"x":5264,"y":0.99},{"x":5266,"y":1.02},{"x":5268,"y":0.98},{"x":5270,"y":1.0},{"x":5272,"y":0.99},{"x":5274,"y":0.98},{"x":5276,"y":0.99},{"x":5278,"y":0.97},{"x":5280,"y":0.99},{"x":5282,"y":0.98},{"x":5284,"y":0.97},{"x":5286,"y":0.98},{"x":5287,"y":0.96},{"x":5288.5,"y":1.02},{"x":5290,"y":1.2},{"x":5291,"y":1.05},{"x":5292,"y":0.97},{"x":5294,"y":0.99},{"x":5296,"y":1.02},{"x":5298,"y":0.98},{"x":5300,"y":1.0},{"x":5302,"y":0.99},{"x":5304,"y":1.01},{"x":5306,"y":1.0},{"x":5308,"y":0.98},{"x":5310,"y":1.01},{"x":5312,"y":1.0},{"x":5314,"y":1.02},{"x":5316,"y":0.99},{"x":5318,"y":1.01},{"x":5320,"y":1.0},{"x":5322,"y":1.01},{"x":5324,"y":0.99},{"x":5326,"y":1.02},{"x":5328,"y":1.0},{"x":5330,"y":1.01},{"x":5332,"y":0.99},{"x":5334,"y":1.01},{"x":5336,"y":1.02},{"x":5338,"y":1.0},{"x":5340,"y":1.01},{"x":5342,"y":0.99},{"x":5344,"y":1.0},{"x":5346,"y":1.02},{"x":5348,"y":0.99},{"x":5350,"y":1.01},{"x":5352,"y":1.0},{"x":5354,"y":0.99},{"x":5356,"y":0.98},{"x":5358,"y":0.99},{"x":5360,"y":1.01},{"x":5362,"y":1.0},{"x":5364,"y":1.02},{"x":5366,"y":0.99},{"x":5368,"y":1.01},{"x":5370,"y":1.0},{"x":5372,"y":0.99},{"x":5374,"y":1.02},{"x":5376,"y":1.06},{"x":5378,"y":1.01},{"x":5380,"y":1.03},{"x":5382,"y":1.0},{"x":5384,"y":1.02},{"x":5386,"y":1.01},{"x":5388,"y":0.99},{"x":5390,"y":1.0},{"x":5392,"y":0.99},{"x":5394,"y":0.98},{"x":5396,"y":0.97},{"x":5398,"y":0.98},{"x":5400,"y":0.96},{"x":5402,"y":0.97},{"x":5404,"y":0.95},{"x":5406,"y":0.96},{"x":5408,"y":0.94},{"x":5409,"y":0.93},{"x":5411,"y":0.97},{"x":5413,"y":0.95},{"x":5415,"y":0.96},{"x":5417,"y":0.97},{"x":5419,"y":0.99},{"x":5421,"y":0.98},{"x":5423,"y":1.0},{"x":5425,"y":0.99},{"x":5427,"y":1.01},{"x":5429,"y":0.99},{"x":5431,"y":1.0},{"x":5433,"y":0.99},{"x":5435,"y":1.01},{"x":5437,"y":1.0},{"x":5439,"y":1.02},{"x":5441,"y":0.99},{"x":5443,"y":1.0},{"x":5445,"y":1.01},{"x":5447,"y":0.99},{"x":5449,"y":1.0},{"x":5451,"y":0.98},{"x":5453,"y":0.99},{"x":5455,"y":0.97},{"x":5457,"y":0.98},{"x":5459,"y":0.96},{"x":5461,"y":0.97},{"x":5463,"y":0.96},{"x":5465,"y":0.95},{"x":5467,"y":0.96},{"x":5469,"y":0.97},{"x":5471,"y":0.98},{"x":5473,"y":0.95},{"x":5475,"y":0.97},{"x":5477,"y":0.99},{"x":5479,"y":1.01},{"x":5481,"y":1.0},{"x":5483,"y":1.02},{"x":5485,"y":1.01},{"x":5487,"y":0.99},{"x":5489,"y":1.02},{"x":5490,"y":1.05},{"x":5492,"y":1.01},{"x":5494,"y":1.0},{"x":5496,"y":1.02},{"x":5498,"y":0.99},{"x":5500,"y":1.01},{"x":5502,"y":1.0},{"x":5504,"y":0.99},{"x":5506,"y":1.01},{"x":5508,"y":0.98},{"x":5510,"y":1.0}],
"m4": [{"x":5240,"y":1.0},{"x":5262,"y":1.0},{"x":5266,"y":0.995},{"x":5268.9,"y":0.99},{"x":5271,"y":0.995},{"x":5274,"y":0.99},{"x":5276.5,"y":0.985},{"x":5277.4,"y":1.011},{"x":5278.2,"y":0.985},{"x":5280,"y":0.98},{"x":5283,"y":0.975},{"x":5285,"y":0.97},{"x":5287,"y":0.967},{"x":5288.5,"y":0.975},{"x":5289.2,"y":1.2},{"x":5289.7,"y":1.6},{"x":5290.7,"y":1.6},{"x":5291.4,"y":1.1},{"x":5292.4,"y":0.962},{"x":5294,"y":0.972},{"x":5297,"y":0.985},{"x":5300.9,"y":0.993},{"x":5310,"y":1.0},{"x":5350,"y":1.0},{"x":5354,"y":0.992},{"x":5357.2,"y":0.984},{"x":5360,"y":0.992},{"x":5364,"y":1.0},{"x":5388,"y":1.0},{"x":5392,"y":0.995},{"x":5395,"y":0.99},{"x":5399.2,"y":0.984},{"x":5403.5,"y":0.97},{"x":5407.8,"y":0.957},{"x":5409.5,"y":0.955},{"x":5410.5,"y":0.975},{"x":5411,"y":1.0},{"x":5411.6,"y":0.975},{"x":5413.2,"y":0.946},{"x":5415,"y":0.955},{"x":5417,"y":0.968},{"x":5419.5,"y":0.98},{"x":5421.7,"y":0.987},{"x":5425,"y":0.99},{"x":5430,"y":0.995},{"x":5440,"y":0.998},{"x":5448,"y":0.995},{"x":5452,"y":0.99},{"x":5455,"y":0.988},{"x":5458,"y":0.98},{"x":5461.3,"y":0.97},{"x":5464,"y":0.957},{"x":5467.7,"y":0.944},{"x":5469.5,"y":0.96},{"x":5470.3,"y":0.996},{"x":5471.2,"y":0.96},{"x":5472.4,"y":0.94},{"x":5474.5,"y":0.955},{"x":5477,"y":0.97},{"x":5480.5,"y":0.99},{"x":5485,"y":0.997},{"x":5492,"y":1.0},{"x":5510,"y":1.0}],
"o5": [{"x":5777,"y":1.02},{"x":5778,"y":0.99},{"x":5779,"y":1.01},{"x":5780,"y":0.98},{"x":5781,"y":1.03},{"x":5782,"y":0.99},{"x":5783,"y":1.0},{"x":5784,"y":0.97},{"x":5785,"y":1.02},{"x":5786,"y":0.99},{"x":5787,"y":1.01},{"x":5788,"y":1.03},{"x":5789,"y":0.98},{"x":5790,"y":1.0},{"x":5791,"y":1.02},{"x":5792,"y":0.99},{"x":5793,"y":1.03},{"x":5794,"y":1.0},{"x":5795,"y":0.98},{"x":5796,"y":1.01},{"x":5797,"y":1.0},{"x":5798,"y":1.03},{"x":5799,"y":1.02},{"x":5800,"y":1.2},{"x":5801,"y":1.9},{"x":5801.5,"y":2.0},{"x":5802,"y":1.3},{"x":5803,"y":0.98},{"x":5804,"y":1.0},{"x":5805,"y":0.97},{"x":5806,"y":1.01},{"x":5807,"y":0.99},{"x":5808,"y":1.0},{"x":5809,"y":0.98},{"x":5810,"y":1.02},{"x":5811,"y":1.4},{"x":5811.7,"y":1.75},{"x":5812.5,"y":1.2},{"x":5813,"y":0.97},{"x":5814,"y":0.96},{"x":5815,"y":1.01},{"x":5816,"y":1.03},{"x":5817,"y":0.99},{"x":5818,"y":1.02},{"x":5819,"y":1.0},{"x":5820,"y":1.04},{"x":5821,"y":0.99},{"x":5822,"y":1.02},{"x":5823,"y":1.0},{"x":5824,"y":1.03},{"x":5825,"y":0.99},{"x":5826,"y":1.01},{"x":5827,"y":1.02},{"x":5828,"y":0.98},{"x":5829,"y":1.01},{"x":5830,"y":1.0},{"x":5831,"y":1.03},{"x":5832,"y":0.99},{"x":5833,"y":1.01},{"x":5834,"y":1.0},{"x":5835,"y":1.02},{"x":5836,"y":1.0}],
"m5": [{"x":5777,"y":1.0},{"x":5796,"y":1.0},{"x":5799,"y":1.005},{"x":5800.3,"y":1.1},{"x":5800.9,"y":1.6},{"x":5801.3,"y":2.1},{"x":5801.7,"y":1.6},{"x":5802.2,"y":1.05},{"x":5803,"y":0.99},{"x":5805,"y":0.995},{"x":5807,"y":1.0},{"x":5809.5,"y":0.99},{"x":5810.6,"y":1.05},{"x":5811.3,"y":1.4},{"x":5811.7,"y":1.78},{"x":5812.1,"y":1.4},{"x":5812.8,"y":1.05},{"x":5813.6,"y":0.99},{"x":5815,"y":1.0},{"x":5836,"y":1.0}],
"o6": [{"x":6505,"y":1.01},{"x":6506,"y":0.99},{"x":6507,"y":1.02},{"x":6508,"y":0.98},{"x":6509,"y":1.01},{"x":6510,"y":0.99},{"x":6511,"y":1.02},{"x":6512,"y":0.97},{"x":6513,"y":1.01},{"x":6514,"y":0.99},{"x":6515,"y":1.02},{"x":6516,"y":0.98},{"x":6517,"y":1.0},{"x":6518,"y":0.97},{"x":6519,"y":1.01},{"x":6520,"y":0.99},{"x":6521,"y":1.02},{"x":6522,"y":0.96},{"x":6523,"y":1.0},{"x":6524,"y":1.01},{"x":6525,"y":0.98},{"x":6526,"y":1.02},{"x":6527,"y":0.99},{"x":6528,"y":1.01},{"x":6529,"y":0.97},{"x":6530,"y":1.0},{"x":6531,"y":1.03},{"x":6532,"y":0.99},{"x":6533,"y":1.04},{"x":6534,"y":0.98},{"x":6535,"y":1.01},{"x":6536,"y":0.97},{"x":6537,"y":1.02},{"x":6538,"y":1.0},{"x":6539,"y":0.98},{"x":6540,"y":1.01},{"x":6541,"y":0.99},{"x":6542,"y":1.0},{"x":6543,"y":0.98},{"x":6544,"y":0.99},{"x":6545,"y":0.96},{"x":6546,"y":0.97},{"x":6547,"y":0.94},{"x":6548,"y":0.96},{"x":6549,"y":0.93},{"x":6550,"y":0.95},{"x":6551,"y":0.92},{"x":6552,"y":0.9},{"x":6553,"y":0.93},{"x":6554,"y":0.89},{"x":6555,"y":0.87},{"x":6556,"y":0.91},{"x":6557,"y":0.94},{"x":6558,"y":0.99},{"x":6559,"y":1.06},{"x":6560,"y":1.03},{"x":6561,"y":0.96},{"x":6562,"y":0.92},{"x":6563,"y":0.95},{"x":6564,"y":0.91},{"x":6565,"y":0.94},{"x":6566,"y":0.96},{"x":6567,"y":0.93},{"x":6568,"y":0.97},{"x":6569,"y":0.95},{"x":6570,"y":0.98},{"x":6571,"y":0.94},{"x":6572,"y":0.97},{"x":6573,"y":0.99},{"x":6574,"y":0.95},{"x":6575,"y":0.98},{"x":6576,"y":0.96},{"x":6577,"y":1.0},{"x":6578,"y":0.97},{"x":6579,"y":0.99},{"x":6580,"y":1.01},{"x":6581,"y":0.97},{"x":6582,"y":1.0},{"x":6583,"y":0.98},{"x":6584,"y":1.02},{"x":6585,"y":0.96},{"x":6586,"y":0.99},{"x":6587,"y":0.97},{"x":6588,"y":0.95},{"x":6589,"y":0.98},{"x":6590,"y":0.95},{"x":6591,"y":0.97},{"x":6592,"y":1.0},{"x":6593,"y":0.98},{"x":6594,"y":1.02},{"x":6595,"y":0.99},{"x":6596,"y":1.01},{"x":6597,"y":0.98},{"x":6598,"y":1.05},{"x":6599,"y":0.99},{"x":6600,"y":1.02},{"x":6601,"y":0.97},{"x":6602,"y":1.01},{"x":6603,"y":0.99},{"x":6604,"y":1.03},{"x":6605,"y":0.98},{"x":6606,"y":1.01},{"x":6607,"y":0.96},{"x":6608,"y":0.93},{"x":6609,"y":1.0},{"x":6610,"y":1.02},{"x":6611,"y":0.99},{"x":6612,"y":1.01},{"x":6613,"y":0.98},{"x":6614,"y":1.02}],
"m6": [{"x":6505,"y":1.0},{"x":6537.4,"y":1.0},{"x":6545.7,"y":0.994},{"x":6549,"y":0.985},{"x":6552,"y":0.971},{"x":6554.2,"y":0.955},{"x":6555.7,"y":0.936},{"x":6557.2,"y":0.97},{"x":6558.3,"y":1.08},{"x":6559.3,"y":1.174},{"x":6560.3,"y":1.08},{"x":6561.2,"y":0.97},{"x":6562,"y":0.936},{"x":6563.5,"y":0.95},{"x":6565.6,"y":0.965},{"x":6569,"y":0.978},{"x":6572.9,"y":0.986},{"x":6577,"y":0.995},{"x":6581.2,"y":0.998},{"x":6585,"y":0.993},{"x":6587.5,"y":0.98},{"x":6589,"y":0.965},{"x":6590.6,"y":0.956},{"x":6592,"y":0.967},{"x":6594.8,"y":0.99},{"x":6598,"y":1.0},{"x":6614,"y":1.0}]
},
"vconcat": [
 {"bounds": "flush", "spacing": 28, "vconcat": [
  {"width": 784, "height": 159,
   "resolve": {"axis": {"x": "independent", "y": "independent"}},
   "layer": [
    {"data": {"name": "o1"}, "mark": {"type": "line", "color": "#6a6a6a", "strokeWidth": 1, "clip": true},
     "encoding": {
      "x": {"field": "x", "type": "quantitative", "scale": {"domain": [3300, 3914], "nice": false, "zero": false},
            "axis": {"orient": "bottom", "values": [3300,3310,3320,3330,3340,3350,3360,3370,3380,3390,3400,3410,3420,3430,3440,3450,3460,3470,3480,3490,3500,3510,3520,3530,3540,3550,3560,3570,3580,3590,3600,3610,3620,3630,3640,3650,3660,3670,3680,3690,3700,3710,3720,3730,3740,3750,3760,3770,3780,3790,3800,3810,3820,3830,3840,3850,3860,3870,3880,3890,3900,3910], "format": "d", "tickSize": {"condition": {"test": "datum.value % 50 == 0", "value": -6}, "value": -3}, "labelExpr": "datum.value % 50 == 0 ? datum.label : ''", "labelPadding": 12, "title": null}},
      "y": {"field": "y", "type": "quantitative", "scale": {"domain": [0.75, 1.35], "nice": false, "zero": false},
            "axis": {"orient": "left", "values": [0.8,0.9,1.0,1.1,1.2,1.3], "format": ".1f", "tickSize": {"condition": {"test": "round(datum.value*10) % 2 == 0", "value": -6}, "value": -3}, "labelExpr": "round(datum.value*10) % 2 == 0 ? datum.label : ''", "labelPadding": 17, "title": null}}}},
    {"data": {"name": "m1"}, "mark": {"type": "line", "color": "#ff0000", "strokeWidth": 1.2, "clip": true},
     "encoding": {
      "x": {"field": "x", "type": "quantitative", "scale": {"domain": [3300, 3914], "nice": false, "zero": false},
            "axis": {"orient": "top", "values": [3300,3310,3320,3330,3340,3350,3360,3370,3380,3390,3400,3410,3420,3430,3440,3450,3460,3470,3480,3490,3500,3510,3520,3530,3540,3550,3560,3570,3580,3590,3600,3610,3620,3630,3640,3650,3660,3670,3680,3690,3700,3710,3720,3730,3740,3750,3760,3770,3780,3790,3800,3810,3820,3830,3840,3850,3860,3870,3880,3890,3900,3910], "tickSize": {"condition": {"test": "datum.value % 50 == 0", "value": -6}, "value": -3}, "labels": false, "title": null}},
      "y": {"field": "y", "type": "quantitative", "scale": {"domain": [0.75, 1.35], "nice": false, "zero": false},
            "axis": {"orient": "right", "values": [0.8,0.9,1.0,1.1,1.2,1.3], "tickSize": {"condition": {"test": "round(datum.value*10) % 2 == 0", "value": -6}, "value": -3}, "labels": false, "title": null}}}},
    {"data": {"values": [{"x":3852,"x2":3912.5,"y":1.1085,"y2":1.1085},{"x":3852.1,"x2":3852.1,"y":1.1085,"y2":1.048},{"x":3866.2,"x2":3866.2,"y":1.1085,"y2":1.048},{"x":3872.7,"x2":3872.7,"y":1.1085,"y2":1.048},{"x":3893.4,"x2":3893.4,"y":1.1085,"y2":1.048},{"x":3904,"x2":3904,"y":1.1085,"y2":1.048},{"x":3911.6,"x2":3911.6,"y":1.1085,"y2":1.048}]},
     "mark": {"type": "rule", "color": "#7ab8ee", "strokeWidth": 1},
     "encoding": {"x": {"field": "x", "type": "quantitative", "axis": null, "scale": {"domain": [3300, 3914], "nice": false, "zero": false}}, "x2": {"field": "x2"}, "y": {"field": "y", "type": "quantitative", "axis": null, "scale": {"domain": [0.75, 1.35], "nice": false, "zero": false}}, "y2": {"field": "y2"}}},
    {"data": {"values": [{"x":3315.3,"y":0.863,"t":"O VI"},{"x":3431.2,"y":0.8,"t":"O VI"},{"x":3644.6,"y":1.064,"t":"Ne VII"},{"x":3688.8,"y":1.064,"t":"C IV"},{"x":3822.1,"y":0.913,"t":"O VI"},{"x":3864.7,"y":1.145,"t":"Ne VII"}]},
     "mark": {"type": "text", "fontSize": 13, "align": "center", "baseline": "middle"},
     "encoding": {"x": {"field": "x", "type": "quantitative", "axis": null, "scale": {"domain": [3300, 3914], "nice": false, "zero": false}}, "y": {"field": "y", "type": "quantitative", "axis": null, "scale": {"domain": [0.75, 1.35], "nice": false, "zero": false}}, "text": {"field": "t"}}},
    {"data": {"values": [{"x":3508.5,"y":0.91,"t":"(O VI)"},{"x":3606.1,"y":1.081,"t":"(C IV)"},{"x":3623.4,"y":0.906,"t":"(O VI)"}]},
     "mark": {"type": "text", "fontSize": 11, "align": "center", "baseline": "middle"},
     "encoding": {"x": {"field": "x", "type": "quantitative", "axis": null, "scale": {"domain": [3300, 3914], "nice": false, "zero": false}}, "y": {"field": "y", "type": "quantitative", "axis": null, "scale": {"domain": [0.75, 1.35], "nice": false, "zero": false}}, "text": {"field": "t"}}},
    {"data": {"values": [{"x":3604.1,"y":1.221,"t":"HE1429-1209"}]},
     "mark": {"type": "text", "fontSize": 18, "align": "center", "baseline": "middle"},
     "encoding": {"x": {"field": "x", "type": "quantitative", "axis": null, "scale": {"domain": [3300, 3914], "nice": false, "zero": false}}, "y": {"field": "y", "type": "quantitative", "axis": null, "scale": {"domain": [0.75, 1.35], "nice": false, "zero": false}}, "text": {"field": "t"}}}
   ]},
  {"width": 784, "height": 147,
   "resolve": {"axis": {"x": "independent", "y": "independent"}},
   "layer": [
    {"data": {"name": "o2"}, "mark": {"type": "line", "color": "#6a6a6a", "strokeWidth": 1, "clip": true},
     "encoding": {
      "x": {"field": "x", "type": "quantitative", "scale": {"domain": [3917, 4523], "nice": false, "zero": false},
            "axis": {"orient": "bottom", "values": [3920,3930,3940,3950,3960,3970,3980,3990,4000,4010,4020,4030,4040,4050,4060,4070,4080,4090,4100,4110,4120,4130,4140,4150,4160,4170,4180,4190,4200,4210,4220,4230,4240,4250,4260,4270,4280,4290,4300,4310,4320,4330,4340,4350,4360,4370,4380,4390,4400,4410,4420,4430,4440,4450,4460,4470,4480,4490,4500,4510,4520], "format": "d", "tickSize": {"condition": {"test": "datum.value % 50 == 0", "value": -6}, "value": -3}, "labelExpr": "datum.value % 50 == 0 ? datum.label : ''", "labelPadding": 12, "title": null}},
      "y": {"field": "y", "type": "quantitative", "scale": {"domain": [0.784, 1.337], "nice": false, "zero": false},
            "axis": {"orient": "left", "values": [0.8,0.9,1.0,1.1,1.2,1.3], "format": ".1f", "tickSize": {"condition": {"test": "round(datum.value*10) % 2 == 0", "value": -6}, "value": -3}, "labelExpr": "round(datum.value*10) % 2 == 0 ? datum.label : ''", "labelPadding": 17, "title": null}}}},
    {"data": {"name": "m2"}, "mark": {"type": "line", "color": "#ff0000", "strokeWidth": 1.2, "clip": true},
     "encoding": {
      "x": {"field": "x", "type": "quantitative", "scale": {"domain": [3917, 4523], "nice": false, "zero": false},
            "axis": {"orient": "top", "values": [3920,3930,3940,3950,3960,3970,3980,3990,4000,4010,4020,4030,4040,4050,4060,4070,4080,4090,4100,4110,4120,4130,4140,4150,4160,4170,4180,4190,4200,4210,4220,4230,4240,4250,4260,4270,4280,4290,4300,4310,4320,4330,4340,4350,4360,4370,4380,4390,4400,4410,4420,4430,4440,4450,4460,4470,4480,4490,4500,4510,4520], "tickSize": {"condition": {"test": "datum.value % 50 == 0", "value": -6}, "value": -3}, "labels": false, "title": null}},
      "y": {"field": "y", "type": "quantitative", "scale": {"domain": [0.784, 1.337], "nice": false, "zero": false},
            "axis": {"orient": "right", "values": [0.8,0.9,1.0,1.1,1.2,1.3], "tickSize": {"condition": {"test": "round(datum.value*10) % 2 == 0", "value": -6}, "value": -3}, "labels": false, "title": null}}}},
    {"data": {"values": [{"x":3935.7,"y":1.063,"t":"(C IV)"},{"x":3956.3,"y":0.833,"t":"Ca II i.s."},{"x":3992.4,"y":0.888,"t":"Ca II i.s."},{"x":4219.8,"y":1.062,"t":"(C IV)"},{"x":4500.2,"y":0.83,"t":"(O VI)"}]},
     "mark": {"type": "text", "fontSize": 11, "align": "center", "baseline": "middle"},
     "encoding": {"x": {"field": "x", "type": "quantitative", "axis": null, "scale": {"domain": [3917, 4523], "nice": false, "zero": false}}, "y": {"field": "y", "type": "quantitative", "axis": null, "scale": {"domain": [0.784, 1.337], "nice": false, "zero": false}}, "text": {"field": "t"}}},
    {"data": {"values": [{"x":4295.8,"y":0.866,"t":"?"},{"x":4438.9,"y":1.066,"t":"C IV"}]},
     "mark": {"type": "text", "fontSize": 13, "align": "center", "baseline": "middle"},
     "encoding": {"x": {"field": "x", "type": "quantitative", "axis": null, "scale": {"domain": [3917, 4523], "nice": false, "zero": false}}, "y": {"field": "y", "type": "quantitative", "axis": null, "scale": {"domain": [0.784, 1.337], "nice": false, "zero": false}}, "text": {"field": "t"}}}
   ]}
 ]},
 {"bounds": "flush", "spacing": 23, "vconcat": [
  {"width": 784, "height": 160,
   "resolve": {"axis": {"x": "independent", "y": "independent"}},
   "layer": [
    {"data": {"name": "o3"}, "mark": {"type": "line", "color": "#6a6a6a", "strokeWidth": 1, "clip": true},
     "encoding": {
      "x": {"field": "x", "type": "quantitative", "scale": {"domain": [4616, 5112], "nice": false, "zero": false},
            "axis": {"orient": "bottom", "values": [4620,4630,4640,4650,4660,4670,4680,4690,4700,4710,4720,4730,4740,4750,4760,4770,4780,4790,4800,4810,4820,4830,4840,4850,4860,4870,4880,4890,4900,4910,4920,4930,4940,4950,4960,4970,4980,4990,5000,5010,5020,5030,5040,5050,5060,5070,5080,5090,5100,5110], "format": "d", "tickSize": {"condition": {"test": "datum.value % 50 == 0", "value": -6}, "value": -3}, "labelExpr": "datum.value % 50 == 0 ? datum.label : ''", "labelPadding": 12, "title": null}},
      "y": {"field": "y", "type": "quantitative", "scale": {"domain": [0.75, 1.35], "nice": false, "zero": false},
            "axis": {"orient": "left", "values": [0.8,0.9,1.0,1.1,1.2,1.3], "format": ".1f", "tickSize": {"condition": {"test": "round(datum.value*10) % 2 == 0", "value": -6}, "value": -3}, "labelExpr": "round(datum.value*10) % 2 == 0 ? datum.label : ''", "labelPadding": 17, "title": "relative flux", "titlePadding": 1, "titleFontSize": 14}}}},
    {"data": {"name": "m3"}, "mark": {"type": "line", "color": "#ff0000", "strokeWidth": 1.2, "clip": true},
     "encoding": {
      "x": {"field": "x", "type": "quantitative", "scale": {"domain": [4616, 5112], "nice": false, "zero": false},
            "axis": {"orient": "top", "values": [4620,4630,4640,4650,4660,4670,4680,4690,4700,4710,4720,4730,4740,4750,4760,4770,4780,4790,4800,4810,4820,4830,4840,4850,4860,4870,4880,4890,4900,4910,4920,4930,4940,4950,4960,4970,4980,4990,5000,5010,5020,5030,5040,5050,5060,5070,5080,5090,5100,5110], "tickSize": {"condition": {"test": "datum.value % 50 == 0", "value": -6}, "value": -3}, "labels": false, "title": null}},
      "y": {"field": "y", "type": "quantitative", "scale": {"domain": [0.75, 1.35], "nice": false, "zero": false},
            "axis": {"orient": "right", "values": [0.8,0.9,1.0,1.1,1.2,1.3], "tickSize": {"condition": {"test": "round(datum.value*10) % 2 == 0", "value": -6}, "value": -3}, "labels": false, "title": null}}}},
    {"data": {"values": [{"x":4654,"y":0.815,"t":"C IV"},{"x":4687.1,"y":0.815,"t":"He II"},{"x":4785.9,"y":1.068,"t":"C IV"},{"x":4860.7,"y":1.066,"t":"He II"},{"x":5017.2,"y":1.066,"t":"C IV"},{"x":5082.9,"y":1.077,"t":"X"}]},
     "mark": {"type": "text", "fontSize": 13, "align": "center", "baseline": "middle"},
     "encoding": {"x": {"field": "x", "type": "quantitative", "axis": null, "scale": {"domain": [4616, 5112], "nice": false, "zero": false}}, "y": {"field": "y", "type": "quantitative", "axis": null, "scale": {"domain": [0.75, 1.35], "nice": false, "zero": false}}, "text": {"field": "t"}}},
    {"data": {"values": [{"x":4736.7,"y":1.06,"t":"(C IV)"}]},
     "mark": {"type": "text", "fontSize": 11, "align": "center", "baseline": "middle"},
     "encoding": {"x": {"field": "x", "type": "quantitative", "axis": null, "scale": {"domain": [4616, 5112], "nice": false, "zero": false}}, "y": {"field": "y", "type": "quantitative", "axis": null, "scale": {"domain": [0.75, 1.35], "nice": false, "zero": false}}, "text": {"field": "t"}}}
   ]},
  {"bounds": "flush", "spacing": 44, "hconcat": [
   {"width": 421, "height": 160,
    "resolve": {"axis": {"x": "independent", "y": "independent"}},
    "layer": [
     {"data": {"name": "o4"}, "mark": {"type": "line", "color": "#6a6a6a", "strokeWidth": 1, "clip": true},
      "encoding": {
       "x": {"field": "x", "type": "quantitative", "scale": {"domain": [5240, 5510], "nice": false, "zero": false},
             "axis": {"orient": "bottom", "values": [5240,5250,5260,5270,5280,5290,5300,5310,5320,5330,5340,5350,5360,5370,5380,5390,5400,5410,5420,5430,5440,5450,5460,5470,5480,5490,5500,5510], "format": "d", "tickSize": {"condition": {"test": "datum.value % 50 == 0", "value": -6}, "value": -3}, "labelExpr": "datum.value % 50 == 0 ? datum.label : ''", "labelPadding": 12, "title": null}},
       "y": {"field": "y", "type": "quantitative", "scale": {"domain": [0.8, 1.4], "nice": false, "zero": false},
             "axis": {"orient": "left", "values": [0.8,0.9,1.0,1.1,1.2,1.3,1.4], "format": ".1f", "tickSize": {"condition": {"test": "round(datum.value*10) % 2 == 0", "value": -6}, "value": -3}, "labelExpr": "round(datum.value*10) % 2 == 0 ? datum.label : ''", "labelBaseline": {"condition": {"test": "datum.value > 1.35", "value": "top"}, "value": "middle"}, "labelPadding": 17, "title": null}}}},
     {"data": {"name": "m4"}, "mark": {"type": "line", "color": "#ff0000", "strokeWidth": 1.2, "clip": true},
      "encoding": {
       "x": {"field": "x", "type": "quantitative", "scale": {"domain": [5240, 5510], "nice": false, "zero": false},
             "axis": {"orient": "top", "values": [5240,5250,5260,5270,5280,5290,5300,5310,5320,5330,5340,5350,5360,5370,5380,5390,5400,5410,5420,5430,5440,5450,5460,5470,5480,5490,5500,5510], "tickSize": {"condition": {"test": "datum.value % 50 == 0", "value": -6}, "value": -3}, "labels": false, "title": null}},
       "y": {"field": "y", "type": "quantitative", "scale": {"domain": [0.8, 1.4], "nice": false, "zero": false},
             "axis": {"orient": "right", "values": [0.8,0.9,1.0,1.1,1.2,1.3,1.4], "tickSize": {"condition": {"test": "round(datum.value*10) % 2 == 0", "value": -6}, "value": -3}, "labels": false, "title": null}}}},
     {"data": {"values": [{"x":5288.3,"y":0.886,"t":"O VI"},{"x":5413.2,"y":1.065,"t":"He II"},{"x":5470.4,"y":1.065,"t":"C IV"}]},
      "mark": {"type": "text", "fontSize": 13, "align": "center", "baseline": "middle"},
      "encoding": {"x": {"field": "x", "type": "quantitative", "axis": null, "scale": {"domain": [5240, 5510], "nice": false, "zero": false}}, "y": {"field": "y", "type": "quantitative", "axis": null, "scale": {"domain": [0.8, 1.4], "nice": false, "zero": false}}, "text": {"field": "t"}}}
    ]},
   {"width": 101, "height": 160,
    "resolve": {"axis": {"x": "independent", "y": "independent"}},
    "layer": [
     {"data": {"name": "o5"}, "mark": {"type": "line", "color": "#6a6a6a", "strokeWidth": 1, "clip": true},
      "encoding": {
       "x": {"field": "x", "type": "quantitative", "scale": {"domain": [5777, 5836], "nice": false, "zero": false},
             "axis": {"orient": "bottom", "values": [5780,5790,5800,5810,5820,5830], "format": "d", "tickSize": {"condition": {"test": "datum.value % 50 == 0", "value": -6}, "value": -3}, "labelExpr": "datum.value % 50 == 0 ? datum.label : ''", "labelPadding": 12, "title": "λ / Å", "titleY": 19, "titleBaseline": "top", "titleFontSize": 14}},
       "y": {"field": "y", "type": "quantitative", "scale": {"domain": [0.9, 1.9], "nice": false, "zero": false},
             "axis": {"orient": "left", "values": [1.0,1.1,1.2,1.3,1.4,1.5,1.6,1.7,1.8], "format": ".1f", "tickSize": {"condition": {"test": "round(datum.value*10) % 2 == 0", "value": -6}, "value": -3}, "labelExpr": "round(datum.value*10) % 2 == 0 ? datum.label : ''", "labelPadding": 17, "title": null}}}},
     {"data": {"name": "m5"}, "mark": {"type": "line", "color": "#ff0000", "strokeWidth": 1.2, "clip": true},
      "encoding": {
       "x": {"field": "x", "type": "quantitative", "scale": {"domain": [5777, 5836], "nice": false, "zero": false},
             "axis": {"orient": "top", "values": [5780,5790,5800,5810,5820,5830], "tickSize": {"condition": {"test": "datum.value % 50 == 0", "value": -6}, "value": -3}, "labels": false, "title": null}},
       "y": {"field": "y", "type": "quantitative", "scale": {"domain": [0.9, 1.9], "nice": false, "zero": false},
             "axis": {"orient": "right", "values": [1.0,1.1,1.2,1.3,1.4,1.5,1.6,1.7,1.8], "tickSize": {"condition": {"test": "round(datum.value*10) % 2 == 0", "value": -6}, "value": -3}, "labels": false, "title": null}}}},
     {"data": {"values": [{"x":5823.3,"y":1.227,"t":"C IV"}]},
      "mark": {"type": "text", "fontSize": 13, "align": "center", "baseline": "middle"},
      "encoding": {"x": {"field": "x", "type": "quantitative", "axis": null, "scale": {"domain": [5777, 5836], "nice": false, "zero": false}}, "y": {"field": "y", "type": "quantitative", "axis": null, "scale": {"domain": [0.9, 1.9], "nice": false, "zero": false}}, "text": {"field": "t"}}}
    ]},
   {"width": 174, "height": 160,
    "resolve": {"axis": {"x": "independent", "y": "independent"}},
    "layer": [
     {"data": {"name": "o6"}, "mark": {"type": "line", "color": "#6a6a6a", "strokeWidth": 1, "clip": true},
      "encoding": {
       "x": {"field": "x", "type": "quantitative", "scale": {"domain": [6505, 6614], "nice": false, "zero": false},
             "axis": {"orient": "bottom", "values": [6510,6520,6530,6540,6550,6560,6570,6580,6590,6600,6610], "format": "d", "tickSize": {"condition": {"test": "datum.value % 50 == 0", "value": -6}, "value": -3}, "labelExpr": "datum.value % 50 == 0 ? datum.label : ''", "labelPadding": 12, "title": null}},
       "y": {"field": "y", "type": "quantitative", "scale": {"domain": [0.75, 1.35], "nice": false, "zero": false},
             "axis": {"orient": "left", "values": [0.8,0.9,1.0,1.1,1.2,1.3], "format": ".1f", "tickSize": {"condition": {"test": "round(datum.value*10) % 2 == 0", "value": -6}, "value": -3}, "labelExpr": "round(datum.value*10) % 2 == 0 ? datum.label : ''", "labelPadding": 17, "title": null}}}},
     {"data": {"name": "m6"}, "mark": {"type": "line", "color": "#ff0000", "strokeWidth": 1.2, "clip": true},
      "encoding": {
       "x": {"field": "x", "type": "quantitative", "scale": {"domain": [6505, 6614], "nice": false, "zero": false},
             "axis": {"orient": "top", "values": [6510,6520,6530,6540,6550,6560,6570,6580,6590,6600,6610], "tickSize": {"condition": {"test": "datum.value % 50 == 0", "value": -6}, "value": -3}, "labels": false, "title": null}},
       "y": {"field": "y", "type": "quantitative", "scale": {"domain": [0.75, 1.35], "nice": false, "zero": false},
             "axis": {"orient": "right", "values": [0.8,0.9,1.0,1.1,1.2,1.3], "tickSize": {"condition": {"test": "round(datum.value*10) % 2 == 0", "value": -6}, "value": -3}, "labels": false, "title": null}}}},
     {"data": {"values": [{"x":6559.6,"y":1.216,"t":"He II"}]},
      "mark": {"type": "text", "fontSize": 13, "align": "center", "baseline": "middle"},
      "encoding": {"x": {"field": "x", "type": "quantitative", "axis": null, "scale": {"domain": [6505, 6614], "nice": false, "zero": false}}, "y": {"field": "y", "type": "quantitative", "axis": null, "scale": {"domain": [0.75, 1.35], "nice": false, "zero": false}}, "text": {"field": "t"}}},
     {"data": {"values": [{"x":6591.6,"y":1.068,"t":"(C IV)"}]},
      "mark": {"type": "text", "fontSize": 11, "align": "center", "baseline": "middle"},
      "encoding": {"x": {"field": "x", "type": "quantitative", "axis": null, "scale": {"domain": [6505, 6614], "nice": false, "zero": false}}, "y": {"field": "y", "type": "quantitative", "axis": null, "scale": {"domain": [0.75, 1.35], "nice": false, "zero": false}}, "text": {"field": "t"}}}
    ]}
  ]}
 ]}
],
"spacing": 8.5
}
